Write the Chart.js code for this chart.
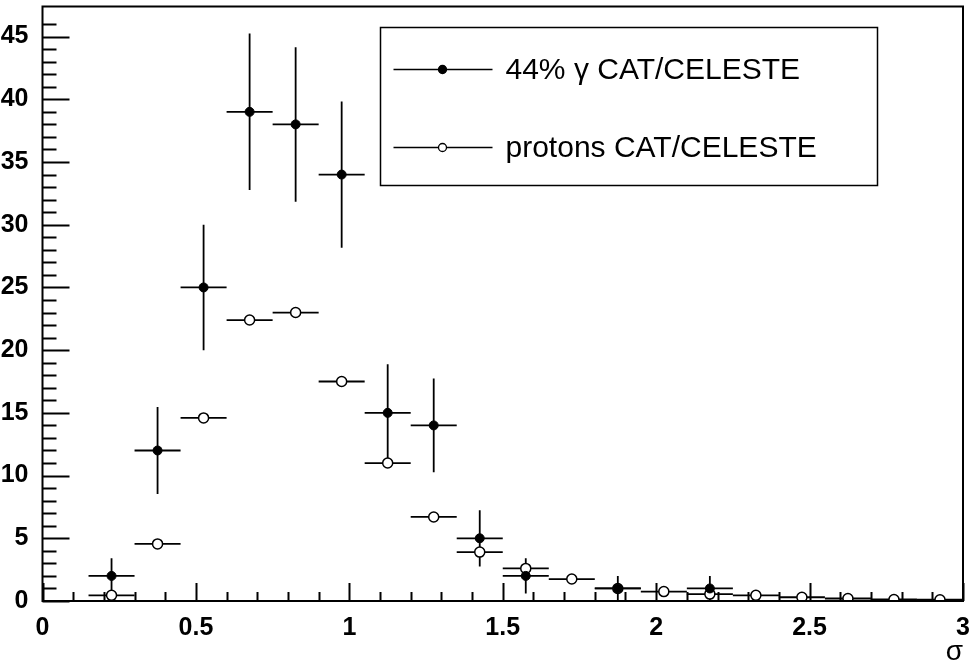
<!DOCTYPE html>
<html>
<head>
<meta charset="utf-8">
<script src="https://cdn.jsdelivr.net/npm/chart.js@4.4.1/dist/chart.umd.min.js"></script>
<style>
  html, body { margin: 0; padding: 0; background: #fff; }
  #wrap { width: 973px; height: 669px; position: relative; }
</style>
</head>
<body>
<div id="wrap"><canvas id="c" width="973" height="669"></canvas></div>
<script>
// ---- data ----
const binCenters = [0.225, 0.375, 0.525, 0.675, 0.825, 0.975, 1.125, 1.275, 1.425, 1.575,
                    1.725, 1.875, 2.025, 2.175, 2.325, 2.475, 2.625, 2.775, 2.925];
const binHalfWidths = [0.075, 0.075, 0.075, 0.075, 0.075, 0.075, 0.075, 0.075, 0.075, 0.075,
                       0.075, 0.075, 0.075, 0.075, 0.075, 0.075, 0.075, 0.075, 0.075];
const gammaValues = [2, 12, 25, 39, 38, 34, 15, 14, 5, 2,
                     null, 1, null, 1, null, null, null, null, null];
const gammaErrors = [1.41, 3.46, 5.0, 6.24, 6.16, 5.83, 3.87, 3.74, 2.24, 1.41,
                     null, 1.0, null, 1.0, null, null, null, null, null];
const protonValues = [0.45, 4.55, 14.6, 22.4, 23.0, 17.5, 11.0, 6.7, 3.9, 2.6,
                      1.75, 1.0, 0.75, 0.55, 0.45, 0.3, 0.2, 0.12, 0.1];
const xTickLabels = ['0', '0.5', '1', '1.5', '2', '2.5', '3'];
const xTickValues = [0, 0.5, 1, 1.5, 2, 2.5, 3];
const yTickLabels = ['0', '5', '10', '15', '20', '25', '30', '35', '40', '45'];
const yTickValues = [0, 5, 10, 15, 20, 25, 30, 35, 40, 45];
const seriesNames = ['44% \u03B3 CAT/CELESTE', 'protons CAT/CELESTE'];
const xTitle = '\u03C3';

function labelFor(values, labels, v) {
  for (let i = 0; i < values.length; i++) if (Math.abs(values[i] - v) < 1e-6) return labels[i];
  return '';
}

const gammaPts = [];
binCenters.forEach((x, i) => { if (gammaValues[i] !== null) gammaPts.push({x: x, y: gammaValues[i], ex: binHalfWidths[i], ey: gammaErrors[i]}); });
const protonPts = binCenters.map((x, i) => ({x: x, y: protonValues[i], ex: binHalfWidths[i], ey: 0}));

const errorBarPlugin = {
  id: 'errorBars',
  beforeDatasetsDraw(chart) {
    const ctx = chart.ctx;
    const xs = chart.scales.x, ys = chart.scales.y;
    ctx.save();
    ctx.strokeStyle = '#000';
    ctx.lineWidth = 1.8;
    [1, 0].forEach(di => {
      const ds = chart.data.datasets[di];
      ds.data.forEach(p => {
        const px = xs.getPixelForValue(p.x), py = ys.getPixelForValue(p.y);
        ctx.beginPath();
        ctx.moveTo(xs.getPixelForValue(p.x - p.ex), py);
        ctx.lineTo(xs.getPixelForValue(p.x + p.ex), py);
        if (p.ey) {
          ctx.moveTo(px, ys.getPixelForValue(Math.max(0, p.y - p.ey)));
          ctx.lineTo(px, ys.getPixelForValue(p.y + p.ey));
        }
        ctx.stroke();
      });
    });
    ctx.restore();
  }
};

const framePlugin = {
  id: 'frameTicks',
  afterDraw(chart) {
    const ctx = chart.ctx;
    const a = chart.chartArea;
    const xs = chart.scales.x, ys = chart.scales.y;
    ctx.save();
    ctx.strokeStyle = '#000';
    ctx.lineWidth = 2;
    ctx.strokeRect(a.left, a.top, a.right - a.left, a.bottom - a.top);
    ctx.beginPath();
    xs.ticks.forEach(t => {
      const v = t.value;
      if (Math.abs(v * 10 - Math.round(v * 10)) > 1e-6) return;
      const major = Math.abs(v * 2 - Math.round(v * 2)) < 1e-6;
      const px = Math.round(xs.getPixelForValue(v)) + 0.5;
      ctx.moveTo(px, a.bottom);
      ctx.lineTo(px, a.bottom - (major ? 18 : 9));
    });
    ys.ticks.forEach(t => {
      const v = t.value;
      if (Math.abs(v - Math.round(v)) > 1e-6) return;
      const major = Math.round(v) % 5 === 0;
      const py = Math.round(ys.getPixelForValue(v)) + 0.5;
      ctx.moveTo(a.left, py);
      ctx.lineTo(a.left + (major ? 27 : 14), py);
    });
    ctx.stroke();

    // legend box
    const L = a.left, T = a.top;
    const bx = L + 338, by = T + 21, bw = 497, bh = 158;
    ctx.fillStyle = '#fff';
    ctx.fillRect(bx, by, bw, bh);
    ctx.lineWidth = 1.5;
    ctx.strokeRect(bx, by, bw, bh);
    const rows = [by + 42, by + 120];
    ctx.font = '30px "Liberation Sans", Arial, sans-serif';
    ctx.textBaseline = 'middle';
    ctx.textAlign = 'left';
    rows.forEach((ry, i) => {
      ctx.lineWidth = 1.5;
      ctx.beginPath();
      ctx.moveTo(bx + 13, ry);
      ctx.lineTo(bx + 112, ry);
      ctx.stroke();
      ctx.beginPath();
      ctx.arc(bx + 62, ry, 4, 0, Math.PI * 2);
      ctx.fillStyle = i === 0 ? '#000' : '#fff';
      ctx.fill();
      ctx.lineWidth = 1.3;
      ctx.stroke();
      ctx.fillStyle = '#000';
      ctx.fillText(seriesNames[i], bx + 125, ry + 1);
    });
    ctx.restore();
  }
};

const chart = new Chart(document.getElementById('c'), {
  type: 'scatter',
  data: {
    datasets: [
      {
        label: seriesNames[0],
        data: gammaPts,
        pointStyle: 'circle',
        pointRadius: 4.5,
        pointBackgroundColor: '#000',
        pointBorderColor: '#000',
        pointBorderWidth: 1,
        showLine: false,
        order: 0
      },
      {
        label: seriesNames[1],
        data: protonPts,
        pointStyle: 'circle',
        pointRadius: 5,
        pointBackgroundColor: '#fff',
        pointBorderColor: '#000',
        pointBorderWidth: 1.5,
        showLine: false,
        order: 1
      }
    ]
  },
  options: {
    responsive: false,
    animation: false,
    events: [],
    layout: { padding: { top: 6, right: 10, left: 0, bottom: 0 } },
    plugins: {
      legend: { display: false },
      tooltip: { enabled: false },
      title: { display: false }
    },
    scales: {
      x: {
        type: 'linear',
        min: 0,
        max: 3,
        grid: { display: false },
        border: { display: false },
        ticks: {
          stepSize: 0.1,
          autoSkip: false,
          maxRotation: 0,
          padding: 4,
          color: '#000',
          font: { family: '"Liberation Sans", Arial, sans-serif', size: 25, weight: 'bold' },
          callback: v => labelFor(xTickValues, xTickLabels, v)
        },
        title: {
          display: true,
          text: xTitle,
          align: 'end',
          color: '#000',
          padding: { top: 0, bottom: 0 },
          font: { family: '"Liberation Sans", Arial, sans-serif', size: 28 }
        },
        afterFit: s => { s.height = 68; s.paddingLeft = 0; s.paddingRight = 0; }
      },
      y: {
        type: 'linear',
        min: 0,
        max: 47.4,
        grid: { display: false },
        border: { display: false },
        ticks: {
          stepSize: 1,
          autoSkip: false,
          padding: 6,
          color: '#000',
          font: { family: '"Liberation Sans", Arial, sans-serif', size: 25, weight: 'bold' },
          callback: v => labelFor(yTickValues, yTickLabels, v)
        },
        afterFit: s => { s.width = 42.5; s.paddingTop = 0; s.paddingBottom = 0; }
      }
    }
  },
  plugins: [errorBarPlugin, framePlugin]
});
</script>
</body>
</html>
